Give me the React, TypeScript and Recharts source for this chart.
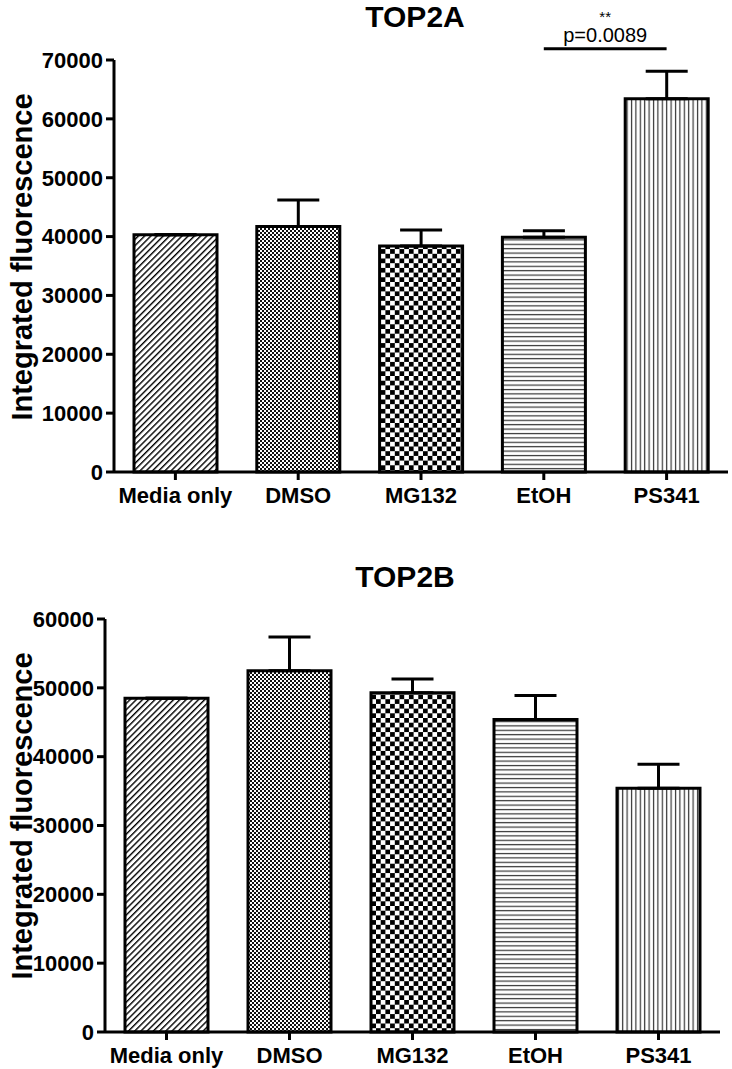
import { BarChart, Bar, XAxis, YAxis, Cell, ErrorBar, ReferenceLine } from "recharts";

const groups = ["Media only", "DMSO", "MG132", "EtOH", "PS341"];

const top2aMean = [40300, 41700, 38400, 39900, 63400];
const top2aSem = [0, 4500, 2700, 1100, 4700];
const top2aTicks = [0, 10000, 20000, 30000, 40000, 50000, 60000, 70000];

const top2bMean = [48500, 52500, 49300, 45400, 35400];
const top2bSem = [0, 4900, 2000, 3500, 3500];
const top2bTicks = [0, 10000, 20000, 30000, 40000, 50000, 60000];

// significance bracket on TOP2A
const sigPair = ["EtOH", "PS341"];
const sigLevel = 71900;
const sigP = "p=0.0089";
const sigStars = "**";

const fillKeys = ["diag", "fine", "check", "hlines", "vlines"];
const font = "'Liberation Sans', Arial, Helvetica, sans-serif";

function patternDefs(p: string) {
  return (
    <defs>
      <pattern id={`${p}-diag`} patternUnits="userSpaceOnUse" width={4.4} height={4.4} patternTransform="rotate(45)">
        <rect width={4.4} height={4.4} fill="#fff" />
        <rect width={1.4} height={4.4} fill="#000" />
      </pattern>
      <pattern id={`${p}-fine`} patternUnits="userSpaceOnUse" width={4} height={4}>
        <rect width={4} height={4} fill="#fff" />
        <rect width={2} height={2} fill="#111" />
        <rect x={2} y={2} width={2} height={2} fill="#111" />
      </pattern>
      <pattern id={`${p}-check`} patternUnits="userSpaceOnUse" width={9.4} height={9.4}>
        <rect width={9.4} height={9.4} fill="#fff" />
        <rect width={4.7} height={4.7} fill="#000" />
        <rect x={4.7} y={4.7} width={4.7} height={4.7} fill="#000" />
      </pattern>
      <pattern id={`${p}-hlines`} patternUnits="userSpaceOnUse" width={10} height={4.4}>
        <rect width={10} height={4.4} fill="#fff" />
        <rect y={1.7} width={10} height={1.2} fill="#333" />
      </pattern>
      <pattern id={`${p}-vlines`} patternUnits="userSpaceOnUse" width={4.4} height={10}>
        <rect width={4.4} height={10} fill="#fff" />
        <rect x={1.7} width={1.2} height={10} fill="#333" />
      </pattern>
    </defs>
  );
}

type ChartProps = {
  id: string;
  means: number[];
  sems: number[];
  ticks: number[];
  width: number;
  height: number;
  margin: { top: number; right: number; bottom: number; left: number };
  yAxisWidth: number;
  xAxisHeight: number;
  labelY: number;
  withSig?: boolean;
};

function FluorChart({ id, means, sems, ticks, width, height, margin, yAxisWidth, xAxisHeight, labelY, withSig }: ChartProps) {
  const data = groups.map((g, i) => ({ group: g, mean: means[i], err: [0, sems[i]] }));
  const axisStyle = { stroke: "#000", strokeWidth: 3 };
  const tickStyle = { fill: "#000", fontSize: 22, fontWeight: 700, fontFamily: font };

  return (
    <BarChart width={width} height={height} data={data} margin={margin}>
      {patternDefs(id)}
      <XAxis
        dataKey="group"
        interval={0}
        height={xAxisHeight}
        axisLine={axisStyle}
        tickLine={axisStyle}
        tickSize={8}
        tickMargin={7}
        tick={tickStyle}
      />
      <YAxis
        width={yAxisWidth}
        domain={[0, ticks[ticks.length - 1]]}
        ticks={ticks}
        interval={0}
        axisLine={axisStyle}
        tickLine={axisStyle}
        tickSize={8}
        tickMargin={3}
        tick={tickStyle}
        label={{
          content: () => (
            <text
              x={22}
              y={labelY}
              transform={`rotate(-90 22 ${labelY})`}
              textAnchor="middle"
              dominantBaseline="central"
              fontSize={29}
              fontWeight={700}
              fontFamily={font}
              fill="#000"
            >
              Integrated fluorescence
            </text>
          ),
        }}
      />
      <Bar dataKey="mean" barSize={83} stroke="#000" strokeWidth={3} isAnimationActive={false}>
        {data.map((d, i) => (
          <Cell key={d.group} fill={`url(#${id}-${fillKeys[i]})`} />
        ))}
        <ErrorBar dataKey="err" width={21} stroke="#000" strokeWidth={3} direction="y" isAnimationActive={false} />
      </Bar>
      {withSig && (
        <ReferenceLine
          segment={[
            { x: sigPair[0], y: sigLevel },
            { x: sigPair[1], y: sigLevel },
          ]}
          stroke="#000"
          strokeWidth={3}
          ifOverflow="visible"
          label={{ value: sigP, position: "top", offset: 7, fontSize: 20, fill: "#000", fontFamily: font }}
        />
      )}
      {withSig && (
        <ReferenceLine
          segment={[
            { x: sigPair[0], y: sigLevel },
            { x: sigPair[1], y: sigLevel },
          ]}
          stroke="none"
          strokeOpacity={0}
          ifOverflow="visible"
          label={{ value: sigStars, position: "top", offset: 27, fontSize: 15, fill: "#000", fontFamily: font }}
        />
      )}
    </BarChart>
  );
}

export default function App() {
  const titleStyle = {
    position: "absolute" as const,
    width: 200,
    textAlign: "center" as const,
    fontSize: 30,
    lineHeight: "30px",
    fontWeight: 700,
    fontFamily: font,
    color: "#000",
  };
  return (
    <div style={{ position: "absolute", left: 0, top: 0, width: 732, height: 1069, background: "#fff", fontFamily: font }}>
      <div style={{ ...titleStyle, left: 315, top: 2 }}>TOP2A</div>
      <div style={{ ...titleStyle, left: 305, top: 562 }}>TOP2B</div>
      <div style={{ position: "absolute", left: 0, top: 0 }}>
        <FluorChart
          id="a"
          means={top2aMean}
          sems={top2aSem}
          ticks={top2aTicks}
          width={732}
          height={530}
          margin={{ top: 60, right: 4, bottom: 18, left: 0 }}
          yAxisWidth={114}
          xAxisHeight={40}
          labelY={257}
          withSig
        />
      </div>
      <div style={{ position: "absolute", left: 0, top: 530 }}>
        <FluorChart
          id="b"
          means={top2bMean}
          sems={top2bSem}
          ticks={top2bTicks}
          width={732}
          height={539}
          margin={{ top: 89, right: 12, bottom: 7, left: 0 }}
          yAxisWidth={105}
          xAxisHeight={30}
          labelY={286}
        />
      </div>
    </div>
  );
}
